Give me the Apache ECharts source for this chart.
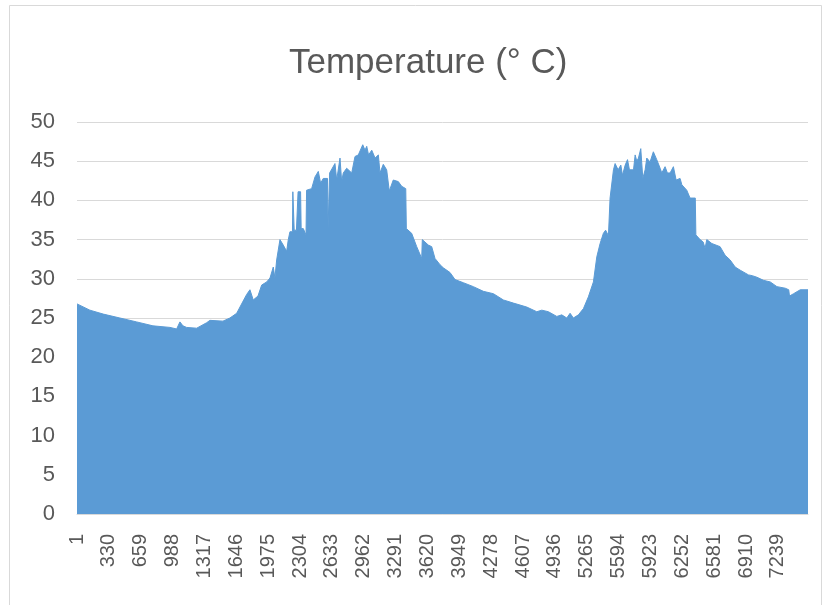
<!DOCTYPE html>
<html lang="en">
<head>
  <meta charset="UTF-8">
  <title>Temperature</title>
  <script src="https://cdn.jsdelivr.net/npm/echarts@6/dist/echarts.min.js"></script>
  <style>
    html, body { margin: 0; padding: 0; background: #fff; }
  </style>
</head>
<body>
<div id="main" style="width: 825px;height: 605px;"></div>
<script>
  // record number (x) and temperature
  var records = [
    1, 134, 272, 444, 617, 785, 961, 1030, 1064, 1095, 1133, 1237, 1340, 1374, 1508, 1580, 1650, 1684,
    1753, 1787, 1805, 1821, 1839, 1870, 1908, 1960, 1994, 2028, 2045, 2063, 2097, 2131, 2166, 2183,
    2200, 2226, 2230, 2238, 2244, 2267, 2280, 2284, 2310, 2316, 2338, 2366, 2372, 2424, 2459, 2493,
    2517, 2544, 2588, 2594, 2604, 2610, 2665, 2683, 2717, 2734, 2751, 2786, 2838, 2872, 2906, 2952,
    2975, 2993, 3012, 3045, 3079, 3113, 3130, 3164, 3199, 3226, 3267, 3319, 3354, 3396, 3402, 3457,
    3509, 3561, 3567, 3629, 3664, 3698, 3750, 3784, 3853, 3905, 3991, 4094, 4198, 4301, 4404, 4508,
    4645, 4749, 4801, 4869, 4956, 5007, 5059, 5093, 5127, 5179, 5231, 5282, 5334, 5369, 5403, 5437,
    5460, 5489, 5506, 5541, 5558, 5589, 5617, 5634, 5662, 5686, 5706, 5748, 5765, 5782, 5799, 5823,
    5844, 5868, 5885, 5919, 5953, 5988, 6023, 6040, 6074, 6098, 6126, 6160, 6188, 6229, 6247, 6298,
    6332, 6386, 6392, 6436, 6467, 6487, 6505, 6557, 6642, 6694, 6746, 6798, 6850, 6935, 6974, 7022,
    7091, 7160, 7229, 7315, 7351, 7359, 7401, 7470, 7550
  ];
  var temps = [
    26.8, 26.0, 25.5, 25.0, 24.5, 24.0, 23.8, 23.6, 24.5, 24.0, 23.8, 23.7, 24.4, 24.7, 24.6, 25.0, 25.6, 26.4,
    28.0, 28.6, 28.7, 27.3, 27.3, 27.8, 29.2, 29.6, 30.1, 31.5, 30.1, 32.4, 35.0, 34.3, 33.5, 35.0,
    36.0, 36.0, 41.1, 41.1, 36.2, 36.2, 36.4, 41.1, 41.1, 36.4, 36.4, 35.6, 41.3, 41.5, 43.0, 43.7,
    42.2, 42.8, 42.8, 36.4, 36.4, 43.5, 44.7, 42.6, 45.4, 42.4, 43.5, 44.1, 43.5, 45.6, 45.8, 47.1,
    46.4, 46.9, 45.8, 46.4, 45.4, 45.8, 43.5, 44.6, 43.9, 41.2, 42.6, 42.4, 41.8, 41.5, 36.4, 35.8,
    34.1, 32.6, 35.0, 34.3, 34.1, 32.6, 31.8, 31.4, 30.8, 29.9, 29.5, 29.0, 28.4, 28.1, 27.3, 26.9,
    26.4, 25.8, 26.0, 25.8, 25.2, 25.4, 25.0, 25.6, 25.0, 25.4, 26.2, 27.7, 29.6, 32.8, 34.5, 35.8,
    36.2, 35.5, 40.3, 43.9, 44.7, 43.9, 44.5, 43.2, 44.5, 45.2, 43.9, 43.9, 45.8, 45.0, 45.4, 46.6,
    42.8, 43.9, 45.4, 44.9, 46.2, 45.2, 44.1, 43.5, 44.3, 43.5, 43.5, 44.3, 42.6, 42.8, 42.0, 41.3,
    40.3, 40.3, 35.6, 35.0, 34.7, 33.9, 35.0, 34.5, 34.1, 33.0, 32.4, 31.5, 31.1, 30.5, 30.4, 30.2,
    29.8, 29.6, 29.0, 28.8, 28.6, 27.8, 28.1, 28.6, 28.6
  ];
  var tickRecords = [1, 330, 659, 988, 1317, 1646, 1975, 2304, 2633, 2962, 3291, 3620, 3949,
    4278, 4607, 4936, 5265, 5594, 5923, 6252, 6581, 6910, 7239];

  var myChart = echarts.init(document.getElementById('main'));
  myChart.setOption({
    animation: false,
    backgroundColor: '#fff',
    title: {
      text: 'Temperature (° C)',
      left: 284,
      top: 41,
      textStyle: {
        fontFamily: 'Liberation Sans',
        fontSize: 35,
        fontWeight: 'normal',
        color: '#595959'
      }
    },
    graphic: [{
      type: 'rect',
      shape: { x: 9.5, y: 5.5, width: 812, height: 640 },
      style: { fill: 'none', stroke: '#d9d9d9', lineWidth: 1 },
      silent: true
    }],
    grid: { left: 77, right: 17, top: 122, bottom: 91 },
    xAxis: {
      type: 'value',
      min: 1,
      max: 7550,
      splitLine: { show: false },
      axisTick: { show: false },
      axisLine: { lineStyle: { color: '#d9d9d9' } },
      axisLabel: {
        customValues: tickRecords,
        formatter: function (v) { return String(v); },
        rotate: 90,
        margin: 20,
        fontFamily: 'Liberation Sans',
        fontSize: 20,
        color: '#595959'
      }
    },
    yAxis: {
      type: 'value',
      min: 0,
      max: 50,
      interval: 5,
      axisLine: { show: false },
      axisTick: { show: false },
      splitLine: { lineStyle: { color: '#d9d9d9', width: 1 } },
      axisLabel: {
        margin: 22,
        fontFamily: 'Liberation Sans',
        fontSize: 22,
        color: '#595959'
      }
    },
    series: [{
      type: 'line',
      symbol: 'none',
      data: records.map(function (r, i) { return [r, temps[i]]; }),
      lineStyle: { color: '#5b9bd5', width: 1 },
      areaStyle: { color: '#5b9bd5', opacity: 1 }
    }]
  });
</script>
</body>
</html>
